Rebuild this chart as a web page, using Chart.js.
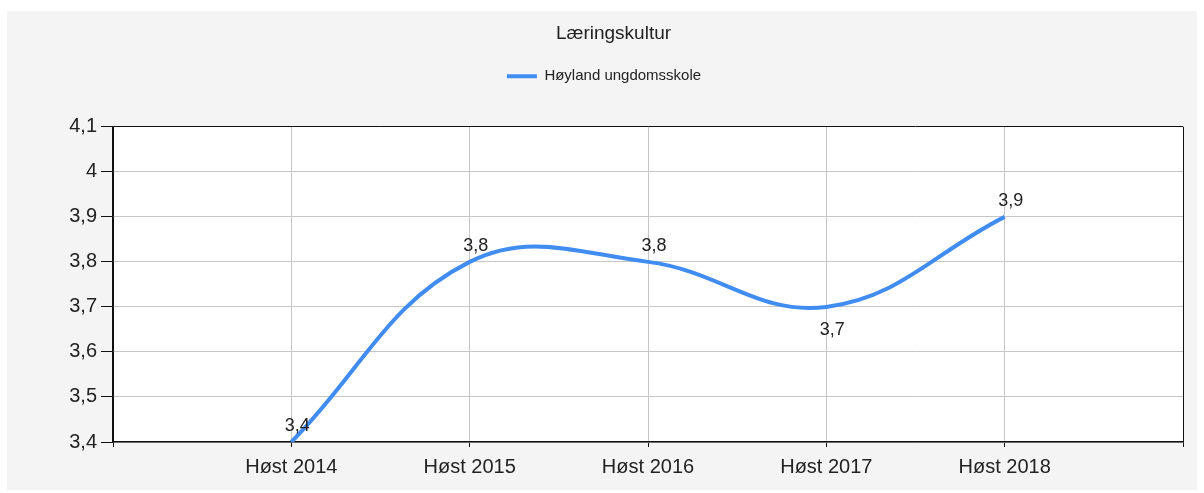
<!DOCTYPE html>
<html>
<head>
<meta charset="utf-8">
<script src="https://cdn.jsdelivr.net/npm/chart.js@4/dist/chart.umd.min.js"></script>
<style>
  html, body { margin: 0; padding: 0; background: #fff; }
  #panel { position: absolute; left: 7px; top: 11px; width: 1190px; height: 479px; background: #f4f4f4; }
  #wrap { position: absolute; left: 0; top: 0; width: 1204px; height: 493px; }
</style>
</head>
<body>
<div id="panel"></div>
<div id="wrap"><canvas id="chart" width="1204" height="493"></canvas></div>
<script>
const chartTitle = 'Læringskultur';
const seriesName = 'Høyland ungdomsskole';
const categories = ['Høst 2014', 'Høst 2015', 'Høst 2016', 'Høst 2017', 'Høst 2018'];
const values = [3.4, 3.8, 3.8, 3.7, 3.9];

const FONT = '"Liberation Sans", Arial, sans-serif';
const LINE_COLOR = '#418cf0';

function fmt(v) {
    return String(Math.round(v * 10) / 10).replace('.', ',');
}

// white plot area on the grey panel
const plotBackground = {
    id: 'plotBackground',
    beforeDraw(chart) {
        const a = chart.chartArea;
        const ctx = chart.ctx;
        ctx.save();
        ctx.fillStyle = '#ffffff';
        ctx.fillRect(a.left, a.top, a.right - a.left, a.bottom - a.top);
        ctx.restore();
    }
};

// extra room between legend and plot, and centre title/legend on the panel
const headerLayout = {
    id: 'headerLayout',
    afterInit(chart) {
        const legend = chart.legend;
        const fit = legend.fit;
        legend.fit = function () {
            fit.call(this);
            this.height += 33;
        };
    },
    afterLayout(chart) {
        chart.legend.left += 25;
        chart.titleBlock.left += 44;
    }
};

// value labels next to every point
const valueLabels = {
    id: 'valueLabels',
    afterDatasetsDraw(chart) {
        const ctx = chart.ctx;
        const meta = chart.getDatasetMeta(0);
        const data = chart.data.datasets[0].data;
        ctx.save();
        ctx.font = '18px ' + FONT;
        ctx.fillStyle = '#222';
        ctx.textAlign = 'center';
        meta.data.forEach((pt, i) => {
            const v = data[i].y;
            const prev = i > 0 ? data[i - 1].y : null;
            const next = i < data.length - 1 ? data[i + 1].y : null;
            const below = prev !== null && next !== null && v < prev && v < next;
            if (below) {
                ctx.textBaseline = 'top';
                ctx.fillText(fmt(v), pt.x + 6, pt.y + 14);
            } else {
                ctx.textBaseline = 'alphabetic';
                ctx.fillText(fmt(v), pt.x + 6, pt.y - 11);
            }
        });
        ctx.restore();
    }
};

const ctx = document.getElementById('chart').getContext('2d');
new Chart(ctx, {
    type: 'line',
    data: {
        datasets: [{
            label: seriesName,
            data: values.map((v, i) => ({ x: i + 1, y: v })),
            borderColor: LINE_COLOR,
            backgroundColor: LINE_COLOR,
            borderWidth: 4,
            pointRadius: 0,
            tension: 0.4,
            fill: false
        }]
    },
    options: {
        responsive: false,
        animation: false,
        layout: { padding: { left: 0, right: 21, top: 0, bottom: 0 } },
        plugins: {
            title: {
                display: true,
                text: chartTitle,
                color: '#222',
                font: { family: FONT, size: 19, weight: 'normal' },
                padding: { top: 22, bottom: 0 }
            },
            legend: {
                display: true,
                position: 'top',
                labels: {
                    color: '#222',
                    font: { family: FONT, size: 15 },
                    boxWidth: 30,
                    boxHeight: 4,
                    padding: 24,
                    generateLabels(chart) {
                        return Chart.defaults.plugins.legend.labels.generateLabels(chart)
                            .map(l => Object.assign(l, { lineWidth: 0, fillStyle: LINE_COLOR }));
                    }
                }
            },
            tooltip: { enabled: false }
        },
        scales: {
            x: {
                type: 'linear',
                min: 0,
                max: 6,
                afterFit(scale) { scale.height = 51; },
                ticks: {
                    stepSize: 1,
                    autoSkip: false,
                    maxRotation: 0,
                    padding: 8,
                    color: '#222',
                    font: { family: FONT, size: 20 },
                    callback: v => categories[v - 1] || ''
                },
                grid: {
                    color: c => (c.tick.value === 0 || c.tick.value === 6) ? '#111' : '#c6c6c6',
                    tickColor: '#111',
                    tickLength: 5,
                    lineWidth: 1
                },
                border: { display: true, color: '#111', width: 1.5 }
            },
            y: {
                min: 3.4,
                max: 4.1,
                afterFit(scale) { scale.width = 113; },
                ticks: {
                    stepSize: 0.1,
                    padding: 4,
                    color: '#222',
                    font: { family: FONT, size: 20 },
                    callback: v => fmt(v)
                },
                grid: {
                    color: c => Math.abs(c.tick.value - 4.1) < 1e-6 ? '#111' : '#c6c6c6',
                    tickColor: '#111',
                    tickLength: 12,
                    lineWidth: 1
                },
                border: { display: true, color: '#111', width: 1.5 }
            }
        }
    },
    plugins: [plotBackground, headerLayout, valueLabels]
});
</script>
</body>
</html>
